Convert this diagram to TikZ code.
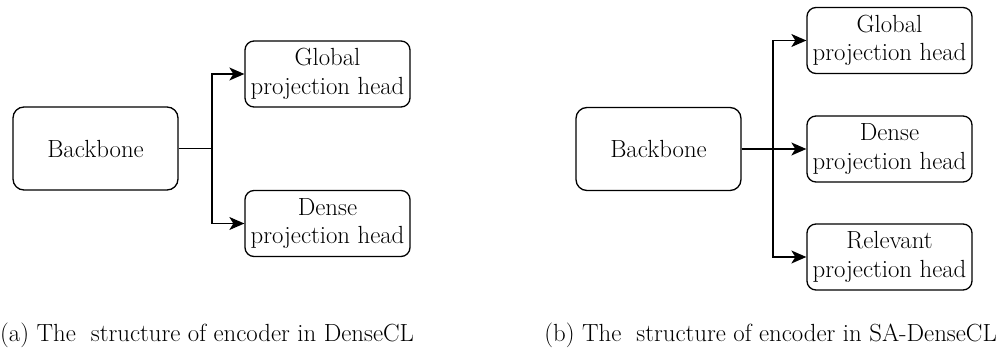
\documentclass[tikz,border=0pt]{standalone}
\usetikzlibrary{arrows.meta}
\tikzset{
  box/.style={draw, line width=1.3pt, rounded corners=9pt, inner sep=0pt,
    align=center, minimum width=165pt, font=\fontsize{24.8}{28.5}\selectfont},
  bone/.style={box, minimum height=83pt, rounded corners=11pt},
  head/.style={box, minimum height=66pt},
  link/.style={line width=1.3pt, -{Stealth[length=15pt, width=13pt, inset=4pt]}},
  caption/.style={font=\fontsize{24.8}{28}\selectfont, inner sep=0pt}
}
\begin{document}
\begin{tikzpicture}[x=1pt, y=-1pt]
  \useasboundingbox (0,0) rectangle (997,350);
  % (a) DenseCL
  \node[bone] (bbA) at (95.5,148.5) {Backbone};
  \node[head] (glA) at (327.5,74) {Global\\projection head};
  \node[head] (deA) at (327.5,223.5) {Dense\\projection head};
  \draw[line width=1.3pt] (bbA.east) -- (212,148.5) coordinate (jA);
  \foreach \h in {glA, deA} {
    \draw[link] (jA) |- (\h.west);
  }
  % (b) SA-DenseCL
  \node[bone] (bbB) at (658.5,149) {Backbone};
  \foreach \n/\y/\t in {glB/40.5/Global, deB/149/Dense, reB/257/Relevant} {
    \node[head] (\n) at (889.5,\y) {\t\\projection head};
  }
  \draw[line width=1.3pt] (bbB.east) -- (773,149) coordinate (jB);
  \draw[link] (jB) |- (glB.west);
  \draw[link] (bbB.east) -- (deB.west);
  \draw[link] (jB) |- (reB.west);
  % captions
  \node[caption, anchor=base west] (capA) at (0,341) {(a) The\ \ structure of encoder in DenseCL};
  \node[caption, anchor=base east] (capB) at (997,341) {(b) The\ \ structure of encoder in SA-DenseCL};
\end{tikzpicture}
\end{document}
